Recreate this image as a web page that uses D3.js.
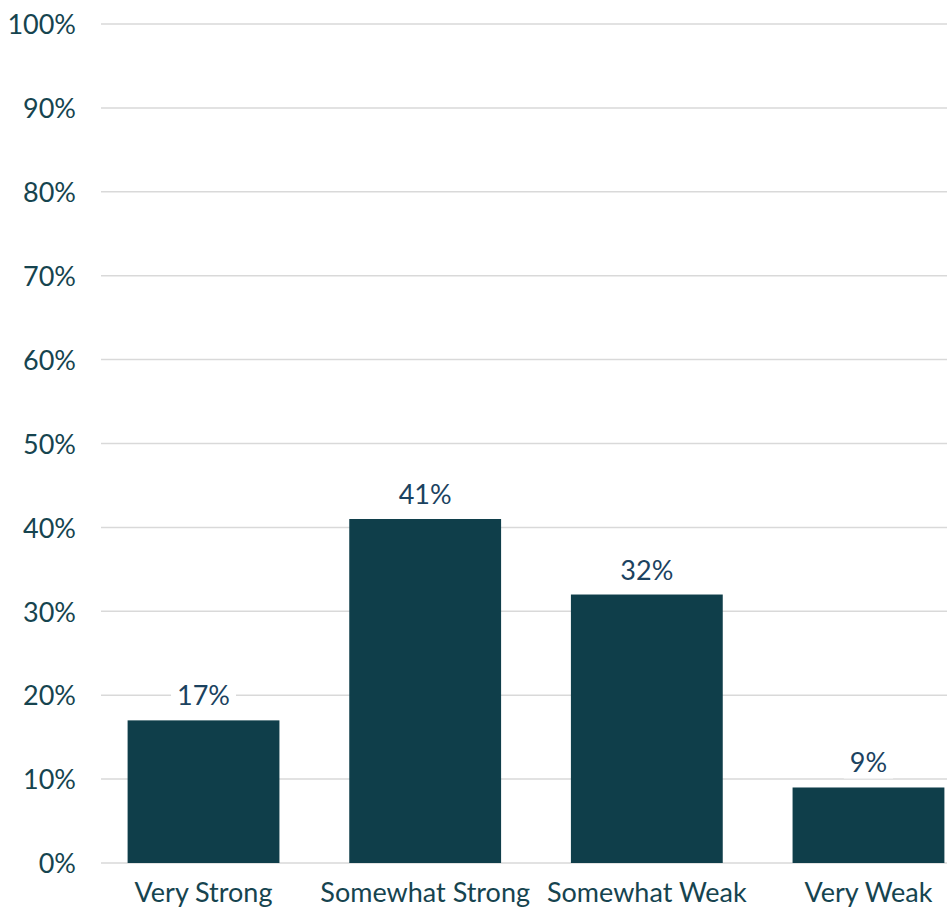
<!DOCTYPE html>
<html>
<head>
<meta charset="utf-8">
<script src="https://cdn.jsdelivr.net/npm/d3@7"></script>
<style>
  body { margin: 0; background: #fff; }
  text { font-family: Lato, "Open Sans", sans-serif; }
</style>
</head>
<body>
<div id="chart"></div>
<script>
// data
var categories = ["Very Strong", "Somewhat Strong", "Somewhat Weak", "Very Weak"];
var values = [0.17, 0.41, 0.32, 0.09];
var tickValues = [0, 0.1, 0.2, 0.3, 0.4, 0.5, 0.6, 0.7, 0.8, 0.9, 1.0];

var width = 947, height = 912;
var margin = {top: 24, right: -24, bottom: 49, left: 101};

var svg = d3.select("#chart")
  .append("svg")
    .attr("width", width)
    .attr("height", height);

var x = d3.scaleBand()
  .domain(categories)
  .range([margin.left, width - margin.right])
  .paddingInner(0.315)
  .paddingOuter(0.12);

var y = d3.scaleLinear()
  .domain([0, 1])
  .range([height - margin.bottom, margin.top]);

// gridlines
svg.append("g")
  .selectAll("line")
  .data(tickValues)
  .enter()
  .append("line")
    .attr("x1", margin.left)
    .attr("x2", width)
    .attr("y1", function(d) { return y(d); })
    .attr("y2", function(d) { return y(d); })
    .style("stroke", "#d9d9d9")
    .style("stroke-width", 1.5);

// y axis labels
var yAxis = svg.append("g")
  .attr("transform", "translate(" + (margin.left - 22) + ",0)")
  .call(d3.axisLeft(y).tickValues(tickValues).tickSize(0).tickFormat(d3.format(".0%")));
yAxis.select(".domain").remove();
yAxis.selectAll("text")
  .style("font-size", "27px")
  .style("fill", "#16444f")
  .attr("dy", "0.36em");

// bars
svg.selectAll(".bar")
  .data(values)
  .enter()
  .append("rect")
    .attr("class", "bar")
    .attr("x", function(d, i) { return x(categories[i]); })
    .attr("y", function(d) { return y(d); })
    .attr("width", x.bandwidth())
    .attr("height", function(d) { return y(0) - y(d); })
    .style("fill", "#0f3e4a");

// x axis labels
var xAxis = svg.append("g")
  .attr("transform", "translate(0," + y(0) + ")")
  .call(d3.axisBottom(x).tickSize(0));
xAxis.select(".domain").remove();
xAxis.selectAll("text")
  .attr("y", 20)
  .style("font-size", "27px")
  .style("fill", "#16444f");

// value labels with white box behind, cutting the gridline
var labels = svg.selectAll(".vlabel")
  .data(values)
  .enter()
  .append("g")
    .attr("class", "vlabel")
    .attr("transform", function(d, i) {
      return "translate(" + (x(categories[i]) + x.bandwidth() / 2) + "," + (y(d) - 15) + ")";
    });
var bg = labels.append("rect").style("fill", "#fff");
labels.append("text")
  .attr("text-anchor", "middle")
  .style("font-size", "27px")
  .style("fill", "#1b4260")
  .text(function(d) { return Math.round(d * 100) + "%"; });
labels.each(function() {
  var g = d3.select(this);
  var b = g.select("text").node().getBBox();
  g.select("rect")
    .attr("x", b.x - 6)
    .attr("y", b.y)
    .attr("width", b.width + 12)
    .attr("height", b.height);
});
</script>
</body>
</html>
